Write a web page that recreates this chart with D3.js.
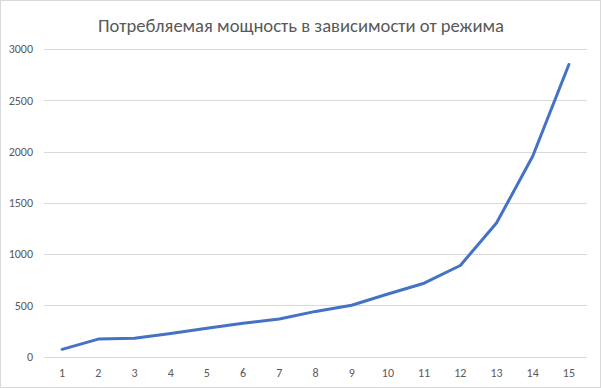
<!DOCTYPE html>
<html>
<head>
<meta charset="utf-8">
<script src="https://cdn.jsdelivr.net/npm/d3@7"></script>
<style>
  body { margin: 0; background: #fff; }
  text { font-family: Carlito, "Open Sans", "Liberation Sans", sans-serif; fill: #595959; }
</style>
</head>
<body>
<div id="chart"></div>
<script>
var title = "Потребляемая мощность в зависимости от режима"
var modes = [1, 2, 3, 4, 5, 6, 7, 8, 9, 10, 11, 12, 13, 14, 15]
var power = [70, 170, 177, 225, 275, 325, 365, 440, 500, 610, 715, 888, 1303, 1953, 2849]
var yTicks = [0, 500, 1000, 1500, 2000, 2500, 3000]

var width = 601, height = 388
var margin = { top: 49, right: 14, bottom: 31, left: 44 }

var svg = d3.select("#chart").append("svg")
    .attr("width", width)
    .attr("height", height)

// outer chart border
svg.append("rect")
    .attr("x", 0.5).attr("y", 0.5)
    .attr("width", width - 1).attr("height", height - 1)
    .attr("fill", "#fff")
    .attr("stroke", "#d9d9d9")

var x = d3.scaleBand()
    .domain(modes)
    .range([margin.left, width - margin.right])

var y = d3.scaleLinear()
    .domain([0, 3000])
    .range([height - margin.bottom - 0.5, margin.top])

// gridlines
svg.append("g")
    .selectAll("line")
    .data(yTicks)
    .enter().append("line")
    .attr("x1", margin.left)
    .attr("x2", width - margin.right)
    .attr("y1", d => Math.round(y(d)) + 0.5)
    .attr("y2", d => Math.round(y(d)) + 0.5)
    .attr("stroke", "#d9d9d9")
    .attr("stroke-width", 1)

// y axis labels
var yAxis = svg.append("g")
    .attr("transform", "translate(" + (margin.left - 11) + ",0)")
    .call(d3.axisLeft(y).tickValues(yTicks).tickFormat(d3.format("d")).tickSize(0).tickPadding(0))
yAxis.select(".domain").remove()
yAxis.selectAll("text")
    .style("font-size", "12px")
    .style("fill", "#595959")

// x axis labels
var xAxis = svg.append("g")
    .attr("transform", "translate(0," + (height - margin.bottom) + ")")
    .call(d3.axisBottom(x).tickSize(0).tickPadding(11))
xAxis.select(".domain").remove()
xAxis.selectAll("text")
    .style("font-size", "12px")
    .style("fill", "#595959")

// the line
var line = d3.line()
    .x((d, i) => x(modes[i]) + x.bandwidth() / 2)
    .y(d => y(d))

svg.append("path")
    .datum(power)
    .attr("fill", "none")
    .attr("stroke", "#4472c4")
    .attr("stroke-width", 3)
    .attr("stroke-linejoin", "round")
    .attr("stroke-linecap", "round")
    .attr("d", line)

// title
svg.append("text")
    .attr("x", 301)
    .attr("y", 32)
    .attr("text-anchor", "middle")
    .attr("textLength", 406)
    .attr("lengthAdjust", "spacingAndGlyphs")
    .style("font-size", "19px")
    .style("fill", "#595959")
    .text(title)
</script>
</body>
</html>
